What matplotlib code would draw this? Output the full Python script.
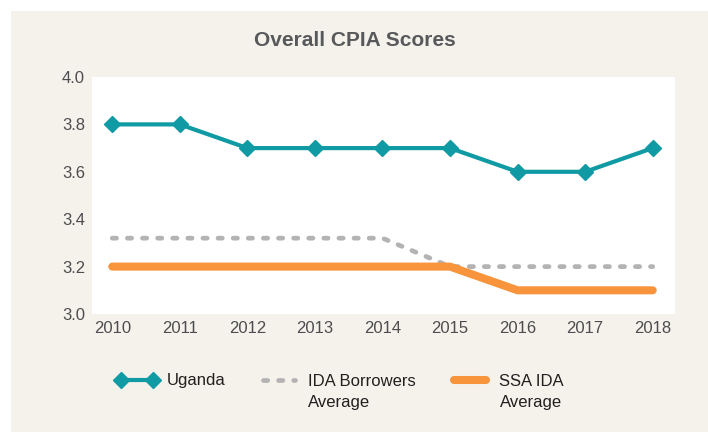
import matplotlib
matplotlib.use("Agg")
import matplotlib.pyplot as plt
from matplotlib.patches import Rectangle

plt.rcParams['font.family'] = ['Liberation Sans Narrow', 'Liberation Sans', 'DejaVu Sans']

years = [2010, 2011, 2012, 2013, 2014, 2015, 2016, 2017, 2018]
uganda = [3.8, 3.8, 3.7, 3.7, 3.7, 3.7, 3.6, 3.6, 3.7]
ida_borrowers = [3.32, 3.32, 3.32, 3.32, 3.32, 3.2, 3.2, 3.2, 3.2]
ssa_ida = [3.2, 3.2, 3.2, 3.2, 3.2, 3.2, 3.1, 3.1, 3.1]
yticks = [3.0, 3.2, 3.4, 3.6, 3.8, 4.0]

bg = "#f5f2ec"
text_col = "#4d4d4f"
legend_col = "#231f20"

fig = plt.figure(figsize=(7.08, 4.32), dpi=100)
fig.patch.set_facecolor(bg)
# thin white strips on the top and left edges
fig.patches.append(Rectangle((0, 1 - 11 / 432), 1, 11 / 432, transform=fig.transFigure,
                             facecolor="white", edgecolor="none", zorder=-10))
fig.patches.append(Rectangle((0, 0), 11 / 708, 1, transform=fig.transFigure,
                             facecolor="white", edgecolor="none", zorder=-10))

ax = fig.add_axes([92 / 708, 1 - 314 / 432, (675 - 92) / 708, (314 - 77) / 432])
ax.set_zorder(1)
ax.set_facecolor("white")

ax.plot(years, ida_borrowers, color="#b3b3b3", lw=3.4, linestyle=(0, (0.9, 2.3)),
        dash_capstyle="round", label="IDA Borrowers", zorder=2)
ax.plot(years, ssa_ida, color="#f7943c", lw=5.8, solid_capstyle="round",
        label="SSA IDA", zorder=3)
ax.plot(years, uganda, color="#0f9aa4", lw=3, marker="D", markersize=8,
        label="Uganda", zorder=4)

ax.set_xlim(2009.7, 2018.33)
ax.set_ylim(3.0, 4.0)
ax.set_xticks(years)
ax.set_yticks(yticks)
ax.set_yticklabels([f"{v:.1f}" for v in yticks])
ax.tick_params(length=0, labelsize=12, labelcolor=text_col, pad=5)
for s in ax.spines.values():
    s.set_visible(False)

fig.text(355 / 708, 1 - 40 / 432, "Overall CPIA Scores", ha="center", va="center",
         fontsize=15, fontweight="bold", color="#58595b")

h, l = ax.get_legend_handles_labels()
order = [2, 0, 1]
leg = fig.legend([h[i] for i in order], [l[i] for i in order], loc="center left",
                 bbox_to_anchor=(108 / 708, 1 - 381 / 432), ncol=3, frameon=False,
                 fontsize=12, handlelength=2.5, columnspacing=2.0, handletextpad=0.5,
                 numpoints=2, borderpad=0)
for t in leg.get_texts():
    t.set_color(legend_col)

# second line of the two long legend labels
fig.canvas.draw()
inv = fig.transFigure.inverted()
for t in leg.get_texts()[1:]:
    bb = t.get_window_extent()
    x0, y0 = inv.transform((bb.x0, bb.y0))
    fig.text(x0, y0 - 6 / 432, "Average", ha="left", va="top", fontsize=12, color=legend_col)

fig.savefig("out.png", dpi=100, facecolor=fig.get_facecolor())
